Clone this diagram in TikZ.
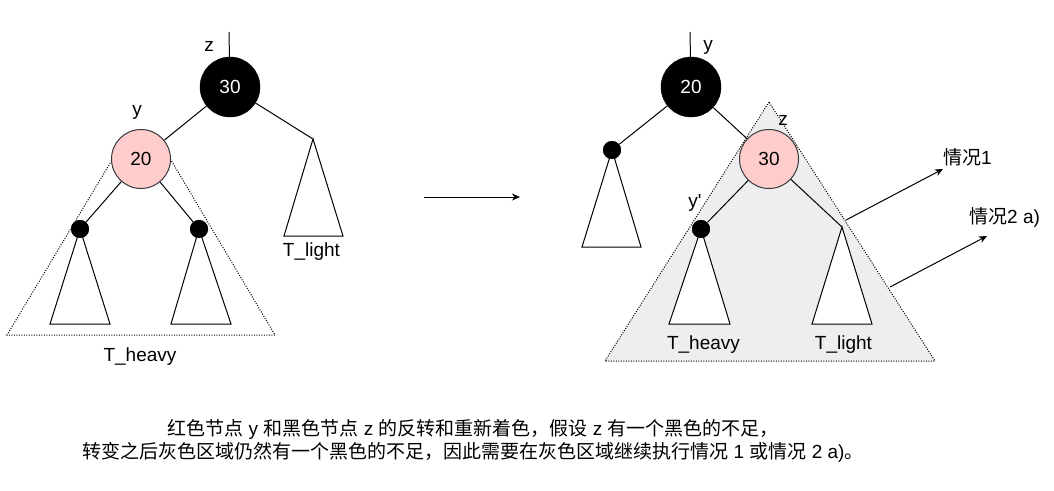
\documentclass[tikz,border=0pt]{standalone}
\usepackage{fontspec}
\setmainfont{Liberation Sans}[Ligatures=TeXOff]
\newfontfamily\cjk{Noto Sans CJK SC}
\usetikzlibrary{arrows.meta}
\definecolor{pinkfill}{HTML}{FFCCCC}
\definecolor{grayfill}{HTML}{EEEEEE}
\definecolor{edgegray}{HTML}{36393D}
\begin{document}
\begin{tikzpicture}[x=1pt,y=-1pt,
  every node/.style={font=\fontsize{19pt}{23pt}\selectfont, inner sep=0pt},
  blknode/.style={circle, draw=black, fill=black, minimum size=60pt, text=white},
  rednode/.style={circle, draw=edgegray, line width=1pt, fill=pinkfill, minimum size=59pt},
  leafdot/.style={circle, fill=black, minimum size=18pt},
  link/.style={draw, line width=1pt},
  subtree/.style={draw, line width=1pt, fill=white, line join=miter},
  zone/.style={draw, line width=1pt, dash pattern=on 1pt off 1.5pt},
  arr/.style={draw, line width=1pt, -{Stealth[length=8pt,width=7pt,inset=2.5pt]}}]
\useasboundingbox (0,0) rectangle (1054,490);

% ---------- left tree ----------
\coordinate (zTopL) at (229,32);
\coordinate (hzA) at (118,150);
\coordinate (hzB) at (7,335);
\coordinate (hzC) at (275,335);
\coordinate (hzD) at (165,150);
\path[zone] (hzA) -- (hzB) -- (hzC) -- (hzD);

\node[blknode] (n30L) at (230,87) {30};
\node[rednode] (n20L) at (141,159) {20};
\node[leafdot] (dL1) at (80,229) {};
\node[leafdot] (dL2) at (199,229) {};
\coordinate (tlLa) at (313,139);
\coordinate (tlLb) at (284,236);
\coordinate (tlLc) at (343,236);
\coordinate (sL1b) at (50,324);
\coordinate (sL1c) at (110,324);
\coordinate (sL2b) at (171,324);
\coordinate (sL2c) at (231,324);

\path[link] (zTopL) -- (n30L);
\path[link] (n30L) -- (n20L);
\path[link] (n30L) -- (tlLa);
\path[link] (n20L) -- (dL1);
\path[link] (n20L) -- (dL2);
\path[subtree] (tlLa) -- (tlLb) -- (tlLc) -- cycle;
\path[subtree] (dL1.center) -- (sL1b) -- (sL1c) -- cycle;
\path[subtree] (dL2.center) -- (sL2b) -- (sL2c) -- cycle;
\node[leafdot] at (dL1) {};
\node[leafdot] at (dL2) {};

\node (lzL) at (209,46) {z};
\node (lyL) at (137,112) {y};
\node (ltlL) at (311.5,252) {T\_light};
\node (lthL) at (140,357) {T\_heavy};

% ---------- middle arrow ----------
\coordinate (mA) at (424,197);
\coordinate (mB) at (520,197);
\path[arr] (mA) -- (mB);

% ---------- right tree ----------
\coordinate (gA) at (769,102);
\coordinate (gB) at (605,361);
\coordinate (gC) at (935,361);
\path[zone, fill=grayfill] (gA) -- (gB) -- (gC) -- cycle;

\coordinate (zTopR) at (690,32);
\node[blknode] (n20R) at (691,87) {20};
\node[rednode] (n30R) at (769,159) {30};
\node[leafdot] (dR0) at (612,150) {};
\node[leafdot] (dR1) at (701,229) {};
\coordinate (tlRa) at (842,227);
\coordinate (tlRb) at (812,324);
\coordinate (tlRc) at (872,324);
\coordinate (sR0b) at (582,247);
\coordinate (sR0c) at (641,247);
\coordinate (sR1b) at (669,324);
\coordinate (sR1c) at (730,324);

\path[link] (zTopR) -- (n20R);
\path[link] (n20R) -- (dR0);
\path[link] (n20R) -- (n30R);
\path[link] (n30R) -- (dR1);
\path[link] (n30R) -- (tlRa);
\path[subtree] (dR0.center) -- (sR0b) -- (sR0c) -- cycle;
\path[subtree] (dR1.center) -- (sR1b) -- (sR1c) -- cycle;
\path[subtree] (tlRa) -- (tlRb) -- (tlRc) -- cycle;
\node[leafdot] at (dR0) {};
\node[leafdot] at (dR1) {};

\node (lyR) at (708,47) {y};
\node (lzR) at (783,120) {z};
\node (lypR) at (695,203) {y'};
\node (lthR) at (703.5,345) {T\_heavy};
\node (ltlR) at (843.5,345) {T\_light};

% ---------- case arrows ----------
\coordinate (a1s) at (846,220);
\coordinate (a1e) at (943,169);
\coordinate (a2s) at (890,287);
\coordinate (a2e) at (987,236);
\path[arr] (a1s) -- (a1e);
\path[arr] (a2s) -- (a2e);
\node[anchor=west] (c1) at (943,157) {{\cjk 情况}1};
\node[anchor=west] (c2) at (969,217) {{\cjk 情况}2 a)};

% ---------- caption ----------
\node[align=center] (cap) at (473,440.5) {{\cjk 红色节点} y {\cjk 和黑色节点} z {\cjk 的反转和重新着色，假设} z {\cjk 有一个黑色的不足，}\\
{\cjk 转变之后灰色区域仍然有一个黑色的不足，因此需要在灰色区域继续执行情况} 1 {\cjk 或情况} 2 a){\cjk 。}};
\end{tikzpicture}
\end{document}
